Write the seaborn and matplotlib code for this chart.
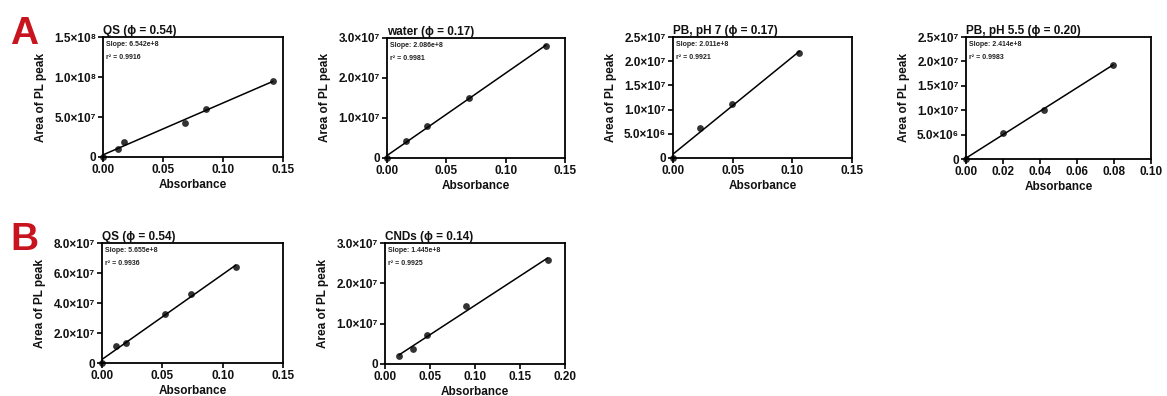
import numpy as np
import pandas as pd
import seaborn as sns
import matplotlib.pyplot as plt

# values
qs_a_x = [0, 0.0125, 0.0173, 0.068, 0.0862, 0.1417]
qs_a_y = [0, 1.05e7, 1.88e7, 4.3e7, 6.0e7, 9.5e7]
water_x = [0, 0.016, 0.0337, 0.0688, 0.134]
water_y = [0, 0.42e7, 0.79e7, 1.5e7, 2.8e7]
pb7_x = [0, 0.0228, 0.0497, 0.106]
pb7_y = [0, 6.1e6, 1.12e7, 2.17e7]
pb55_x = [0, 0.0198, 0.0421, 0.0795]
pb55_y = [0, 5.3e6, 1.01e7, 1.93e7]
qs_b_x = [0, 0.0119, 0.0196, 0.0519, 0.074, 0.1108]
qs_b_y = [0, 1.11e7, 1.33e7, 3.24e7, 4.58e7, 6.38e7]
cnd_x = [0.0156, 0.0315, 0.0463, 0.0896, 0.1807]
cnd_y = [1.9e6, 3.75e6, 7.2e6, 1.43e7, 2.57e7]

titles = ['QS (ϕ = 0.54)', 'water (ϕ = 0.17)', 'PB, pH 7 (ϕ = 0.17)',
          'PB, pH 5.5 (ϕ = 0.20)', 'QS (ϕ = 0.54)', 'CNDs (ϕ = 0.14)']
slopes = ['6.542e+8', '2.086e+8', '2.011e+8', '2.414e+8', '5.655e+8', '1.445e+8']
r2s = ['0.9916', '0.9981', '0.9921', '0.9983', '0.9936', '0.9925']

x_ticks_015 = [0, 0.05, 0.10, 0.15]
x_ticks_010 = [0, 0.02, 0.04, 0.06, 0.08, 0.10]
x_ticks_020 = [0, 0.05, 0.10, 0.15, 0.20]

y_ticks_a1 = [0, 5e7, 1e8, 1.5e8]
y_labels_a1 = ['0', '5.0×10⁷', '1.0×10⁸', '1.5×10⁸']
y_ticks_3e7 = [0, 1e7, 2e7, 3e7]
y_labels_3e7 = ['0', '1.0×10⁷', '2.0×10⁷', '3.0×10⁷']
y_ticks_25e7 = [0, 5e6, 1e7, 1.5e7, 2e7, 2.5e7]
y_labels_25e7 = ['0', '5.0×10⁶', '1.0×10⁷', '1.5×10⁷', '2.0×10⁷', '2.5×10⁷']
y_ticks_8e7 = [0, 2e7, 4e7, 6e7, 8e7]
y_labels_8e7 = ['0', '2.0×10⁷', '4.0×10⁷', '6.0×10⁷', '8.0×10⁷']

sns.set_theme(style="ticks")
plt.rcParams['font.family'] = ['Liberation Sans', 'DejaVu Sans']
plt.rcParams['font.weight'] = 'bold'
plt.rcParams['axes.labelweight'] = 'bold'

W, H = 1167, 396
fig = plt.figure(figsize=(W / 100, H / 100), dpi=100)

# axes boxes in pixels: left, right, top, bottom
boxes = [(103, 283, 37, 157), (387, 565, 38, 158), (673, 852, 37, 158),
         (966, 1151, 37, 159), (102, 283, 243, 363), (385, 565, 243, 364)]

panels = [
    (qs_a_x, qs_a_y, x_ticks_015, y_ticks_a1, y_labels_a1),
    (water_x, water_y, x_ticks_015, y_ticks_3e7, y_labels_3e7),
    (pb7_x, pb7_y, x_ticks_015, y_ticks_25e7, y_labels_25e7),
    (pb55_x, pb55_y, x_ticks_010, y_ticks_25e7, y_labels_25e7),
    (qs_b_x, qs_b_y, x_ticks_015, y_ticks_8e7, y_labels_8e7),
    (cnd_x, cnd_y, x_ticks_020, y_ticks_3e7, y_labels_3e7),
]

for i, (x, y, xt, yt, yl) in enumerate(panels):
    l, r, t, b = boxes[i]
    ax = fig.add_axes([l / W, 1 - b / H, (r - l) / W, (b - t) / H])
    df = pd.DataFrame({'Absorbance': x, 'Area': y})
    sns.regplot(data=df, x='Absorbance', y='Area', ci=None, ax=ax, color='black',
                scatter_kws=dict(s=24, clip_on=False, zorder=3, linewidths=0),
                line_kws=dict(lw=1.1))
    ax.set_xlim(0, xt[-1])
    ax.set_ylim(0, yt[-1])
    ax.set_xticks(xt)
    ax.set_xticklabels([f'{v:.2f}' for v in xt])
    ax.set_yticks(yt)
    ax.set_yticklabels(yl)
    ax.tick_params(direction='out', length=3.5, width=1.2, labelsize=8.5,
                   pad=1.5, color='black', labelcolor='#111111')
    for s in ax.spines.values():
        s.set_linewidth(1.3)
        s.set_color('black')
        s.set_visible(True)
    ax.set_xlabel('Absorbance', fontsize=8.5, labelpad=2, color='#111111')
    ax.set_ylabel('Area of PL peak', fontsize=8.5, color='#111111')
    ax.yaxis.set_label_coords(-56 / (r - l), 0.5)
    ax.set_title(titles[i], loc='left', fontsize=8.5, fontweight='bold', pad=2,
                 color='#111111')
    ax.text(0.015, 0.97, f'Slope: {slopes[i]}', transform=ax.transAxes,
            fontsize=5, va='top', ha='left', color='#222222')
    ax.text(0.015, 0.86, f'r² = {r2s[i]}', transform=ax.transAxes,
            fontsize=5, va='top', ha='left', color='#222222')

fig.text(10 / W, 1 - 44 / H, 'A', fontsize=28, fontweight='bold',
         color='#C8141E', va='baseline', ha='left')
fig.text(10 / W, 1 - 250 / H, 'B', fontsize=28, fontweight='bold',
         color='#C8141E', va='baseline', ha='left')

fig.savefig('out.png', dpi=100)
